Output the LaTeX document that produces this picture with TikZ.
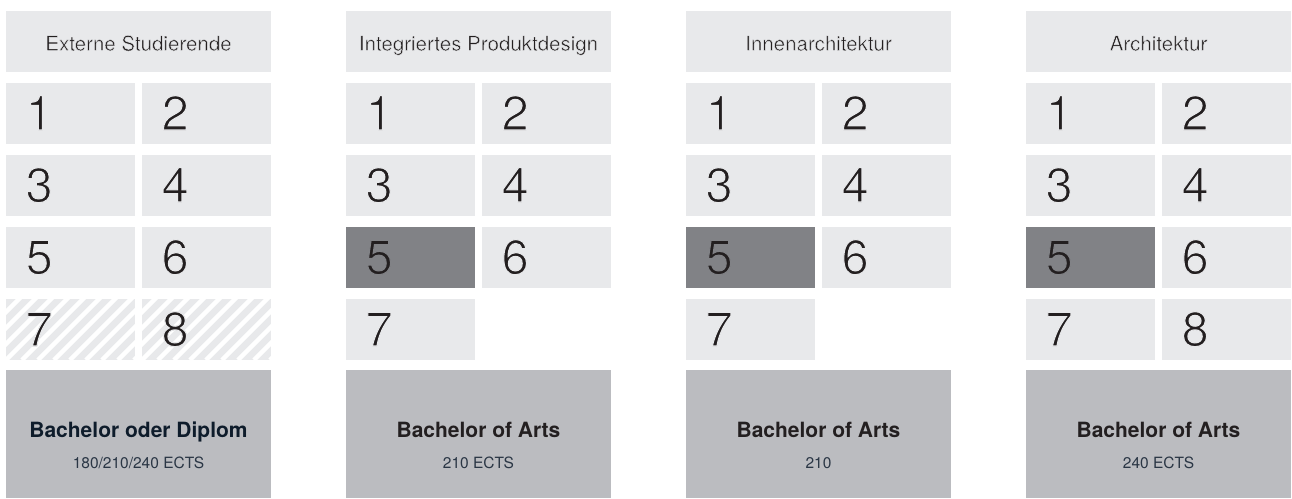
\documentclass[tikz,border=0pt]{standalone}
\usepackage{fontspec}
\setmainfont{TeX Gyre Heros}
\definecolor{cellgray}{HTML}{E8E9EB}
\definecolor{darkcell}{HTML}{818286}
\definecolor{footgray}{HTML}{BBBCC0}
\definecolor{txt}{HTML}{231F20}
\definecolor{navy}{HTML}{0E1C2B}
\definecolor{slate}{HTML}{2A3645}
% thin the glyphs: fill, then stroke the outline in the background colour
\newcommand\thinon[2]{\special{pdf:literal direct 2 Tr #1 w #2 RG}}
\newcommand\lightbg{\thinon{1.1}{0.910 0.914 0.922}}
\newcommand\darkbg{\thinon{1.1}{0.506 0.510 0.525}}
\newcommand\headbg{\thinon{0.45}{0.910 0.914 0.922}}
\tikzset{
  box/.style={rectangle, inner sep=0pt, outer sep=0pt, anchor=north west, fill=cellgray, draw=none},
  semcell/.style={box, minimum width=129pt, minimum height=61pt},
  darksem/.style={semcell, fill=darkcell},
  headbox/.style={box, minimum width=265pt, minimum height=61pt},
  footbox/.style={box, fill=footgray, minimum width=265pt, minimum height=128pt},
  digit/.style={anchor=base west, inner sep=0pt, font=\fontsize{48.5}{48.5}\selectfont, text=txt},
  headtxt/.style={anchor=base, inner sep=0pt, font=\fontsize{20.5}{20.5}\selectfont, text=txt},
  degree/.style={anchor=base, inner sep=0pt, font=\bfseries\fontsize{21}{21}\selectfont, text=txt},
  ects/.style={anchor=base, inner sep=0pt, font=\fontsize{15.5}{15.5}\selectfont, text=slate}
}
% #1 name, #2 x, #3 y, #4 style, #5 digit, #6 thinning
\newcommand\mysem[6]{%
  \node[#4] (#1) at (#2,#3) {};
  \node[digit] (#1-d) at ([xshift=19.5pt,yshift=14pt]#1.south west) {#6#5};
}
\newcommand\myhatch[1]{%
  \begin{scope}
    \clip (#1.south west) rectangle (#1.north east);
    \foreach \s in {-80,-64,...,160} {
      \draw[white, line width=4.4pt] ([xshift=\s pt]#1.south west) -- ++(80,-80);
    }
  \end{scope}
}
\begin{document}
\begin{tikzpicture}[x=1pt,y=-1pt]
\useasboundingbox[fill=white] (0,0) rectangle (1292,498);

% Column 1
\node[headbox] (h1) at (6,11) {};
\node[headtxt] (h1-t) at ([yshift=21.3pt]h1.south) {\headbg Externe Studierende};
\mysem{a1}{6}{83}{semcell}{1}{\lightbg}
\mysem{a2}{142}{83}{semcell}{2}{\lightbg}
\mysem{a3}{6}{155}{semcell}{3}{\lightbg}
\mysem{a4}{142}{155}{semcell}{4}{\lightbg}
\mysem{a5}{6}{227}{semcell}{5}{\lightbg}
\mysem{a6}{142}{227}{semcell}{6}{\lightbg}
\node[semcell] (a7) at (6,299) {};
\node[semcell] (a8) at (142,299) {};
\myhatch{a7}
\myhatch{a8}
\node[digit] (a7-d) at ([xshift=19.5pt,yshift=14pt]a7.south west) {\lightbg 7};
\node[digit] (a8-d) at ([xshift=19.5pt,yshift=14pt]a8.south west) {\lightbg 8};
\node[footbox] (f1) at (6,370) {};
\node[degree, text=navy] (f1-t) at ([yshift=60.3pt]f1.south) {Bachelor oder Diplom};
\node[ects] (f1-e) at ([yshift=29.5pt]f1.south) {180/210/240 ECTS};

% Column 2
\node[headbox] (h2) at (346,11) {};
\node[headtxt] (h2-t) at ([yshift=21.3pt]h2.south) {\headbg Integriertes Produktdesign};
\mysem{b1}{346}{83}{semcell}{1}{\lightbg}
\mysem{b2}{482}{83}{semcell}{2}{\lightbg}
\mysem{b3}{346}{155}{semcell}{3}{\lightbg}
\mysem{b4}{482}{155}{semcell}{4}{\lightbg}
\mysem{b5}{346}{227}{darksem}{5}{\darkbg}
\mysem{b6}{482}{227}{semcell}{6}{\lightbg}
\mysem{b7}{346}{299}{semcell}{7}{\lightbg}
\node[footbox] (f2) at (346,370) {};
\node[degree] (f2-t) at ([yshift=60.3pt]f2.south) {Bachelor of Arts};
\node[ects] (f2-e) at ([yshift=29.5pt]f2.south) {210 ECTS};

% Column 3
\node[headbox] (h3) at (686,11) {};
\node[headtxt] (h3-t) at ([yshift=21.3pt]h3.south) {\headbg Innenarchitektur};
\mysem{c1}{686}{83}{semcell}{1}{\lightbg}
\mysem{c2}{822}{83}{semcell}{2}{\lightbg}
\mysem{c3}{686}{155}{semcell}{3}{\lightbg}
\mysem{c4}{822}{155}{semcell}{4}{\lightbg}
\mysem{c5}{686}{227}{darksem}{5}{\darkbg}
\mysem{c6}{822}{227}{semcell}{6}{\lightbg}
\mysem{c7}{686}{299}{semcell}{7}{\lightbg}
\node[footbox] (f3) at (686,370) {};
\node[degree] (f3-t) at ([yshift=60.3pt]f3.south) {Bachelor of Arts};
\node[ects] (f3-e) at ([yshift=29.5pt]f3.south) {210};

% Column 4
\node[headbox] (h4) at (1026,11) {};
\node[headtxt] (h4-t) at ([yshift=21.3pt]h4.south) {\headbg Architektur};
\mysem{d1}{1026}{83}{semcell}{1}{\lightbg}
\mysem{d2}{1162}{83}{semcell}{2}{\lightbg}
\mysem{d3}{1026}{155}{semcell}{3}{\lightbg}
\mysem{d4}{1162}{155}{semcell}{4}{\lightbg}
\mysem{d5}{1026}{227}{darksem}{5}{\darkbg}
\mysem{d6}{1162}{227}{semcell}{6}{\lightbg}
\mysem{d7}{1026}{299}{semcell}{7}{\lightbg}
\mysem{d8}{1162}{299}{semcell}{8}{\lightbg}
\node[footbox] (f4) at (1026,370) {};
\node[degree] (f4-t) at ([yshift=60.3pt]f4.south) {Bachelor of Arts};
\node[ects] (f4-e) at ([yshift=29.5pt]f4.south) {240 ECTS};
\end{tikzpicture}
\end{document}
